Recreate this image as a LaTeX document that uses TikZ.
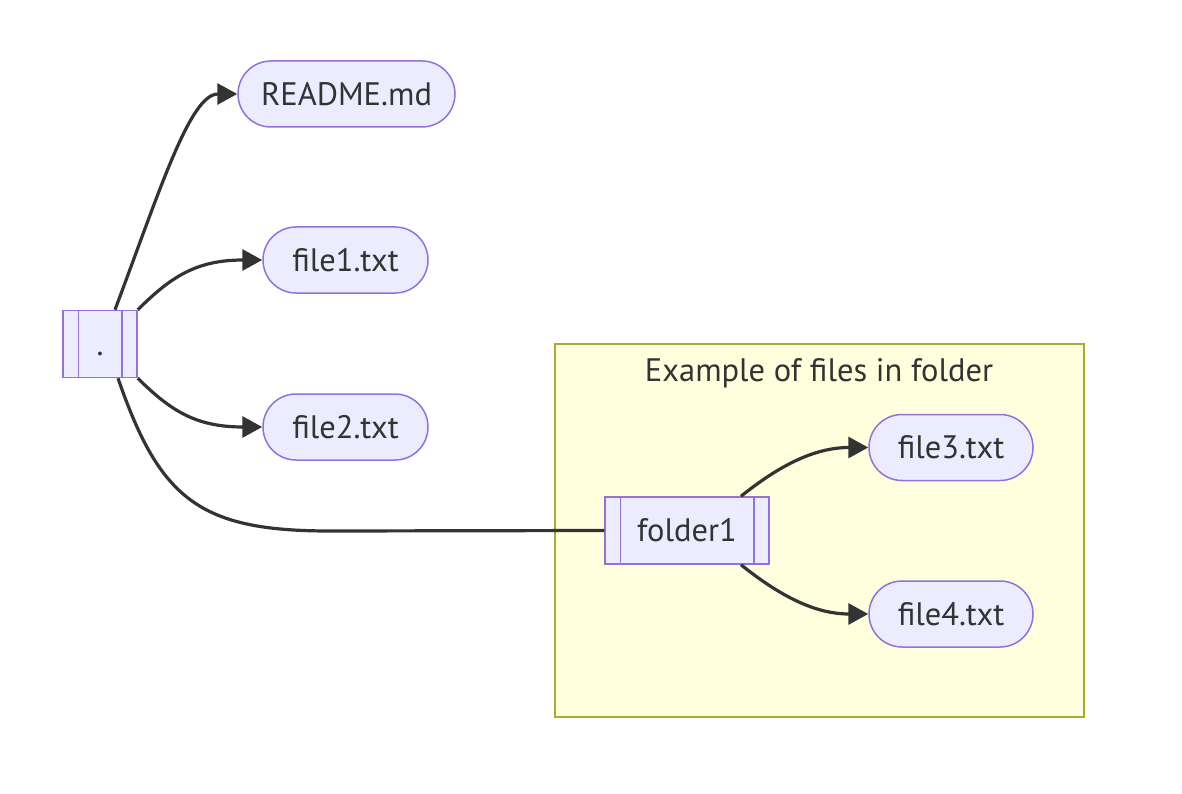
\documentclass[tikz,border=0pt]{standalone}
\usepackage{fontspec}
\setmainfont{PT Sans}
\usetikzlibrary{arrows.meta}
\definecolor{nodefill}{RGB}{236, 236, 255}
\definecolor{nodeline}{RGB}{147, 112, 219}
\definecolor{clusterfill}{RGB}{255, 255, 222}
\definecolor{clusterline}{RGB}{170, 170, 51}
\definecolor{edgecolor}{RGB}{51, 51, 51}
\begin{document}
\begin{tikzpicture}[x=1pt, y=-1pt,
        every node/.style={text=edgecolor, font=\fontsize{32.5}{36}\selectfont},
        filenode/.style={draw=nodeline, fill=nodefill, line width=1.5pt, rounded corners=33pt, minimum height=66pt, inner sep=0pt},
        dirnode/.style={draw=nodeline, fill=nodefill, line width=1.5pt, minimum height=67pt, inner sep=0pt},
        link/.style={draw=edgecolor, line width=3.2pt},
        arrowlink/.style={link, -{Triangle[length=20pt, width=21pt]}}]
    \def\inset{16}
    \useasboundingbox (0, 0) rectangle (1182, 794);
    % folder box
    \node[draw=clusterline, fill=clusterfill, line width=1.5pt, minimum width=529pt, minimum height=373pt, inner sep=0pt] (cluster) at (819.5, 530.5) {};
    \node[] (clustertitle) at (819, 373) {Example of files in folder};
    % directories
    \node[dirnode, minimum width=74pt] (root) at (100, 344) {\vphantom{A}.};
    \draw[nodeline, line width=1.5pt] ([xshift=\inset]root.north west) -- ([xshift=\inset]root.south west);
    \draw[nodeline, line width=1.5pt] ([xshift=-\inset]root.north east) -- ([xshift=-\inset]root.south east);
    \node[dirnode, minimum width=164pt] (folder1) at (687, 530.5) {folder1};
    \draw[nodeline, line width=1.5pt] ([xshift=\inset]folder1.north west) -- ([xshift=\inset]folder1.south west);
    \draw[nodeline, line width=1.5pt] ([xshift=-\inset]folder1.north east) -- ([xshift=-\inset]folder1.south east);
    % files
    \node[filenode, minimum width=217pt] (readme) at (346.5, 94) {README.md};
    \node[filenode, minimum width=165pt] (file1) at (345.5, 260) {file1.txt};
    \node[filenode, minimum width=165pt] (file2) at (345.5, 427) {file2.txt};
    \node[filenode, minimum width=164pt] (file3) at (951, 447.5) {file3.txt};
    \node[filenode, minimum width=164pt] (file4) at (951, 614) {file4.txt};
    % links
    \draw[arrowlink] ([xshift=15pt]root.north) .. controls (160, 190) and (190, 94) .. (readme.west);
    \draw[arrowlink] (root.north east) .. controls (170, 278) and (195, 260) .. (file1.west);
    \draw[arrowlink] (root.south east) .. controls (170, 410) and (195, 427) .. (file2.west);
    \draw[link] ([xshift=18pt]root.south) .. controls (160, 500) and (200, 531) .. (330, 531) -- (folder1.west);
    \draw[arrowlink] ([xshift=54pt]folder1.north) .. controls (780, 465) and (815, 447.5) .. (file3.west);
    \draw[arrowlink] ([xshift=54pt]folder1.south) .. controls (780, 596) and (815, 614) .. (file4.west);
\end{tikzpicture}
\end{document}
